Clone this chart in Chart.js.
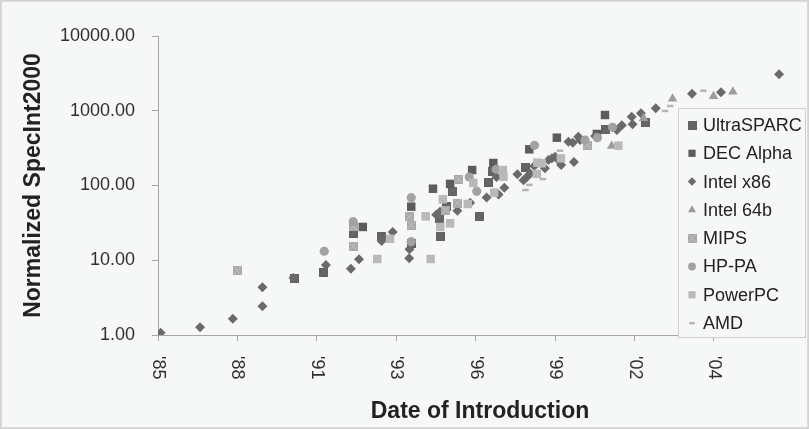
<!DOCTYPE html>
<html>
<head>
<meta charset="utf-8">
<script src="https://cdn.jsdelivr.net/npm/chart.js@4/dist/chart.umd.min.js"></script>
<style>
  html, body { margin: 0; padding: 0; background: #f6f7f7; }
  #spec-chart { display: block; }
</style>
</head>
<body>
<canvas id="spec-chart" width="809" height="429"></canvas>
<script>
// [year of introduction, normalized SpecInt2000]
const ultraSparc = [[1990.42, 5.67], [1991.42, 6.9], [1992.43, 22.9], [1993.42, 20.7], [1994.43, 16.5], [1995.43, 20.5], [1995.42, 36.4], [1995.66, 52.1], [1995.86, 84.4], [1996.77, 37.9], [1997.09, 111], [1997.22, 155], [1998.36, 173], [2001.14, 565], [2002.52, 692]];
const decAlpha = [[1992.76, 27.9], [1994.43, 52.1], [1995.18, 90.6], [1995.77, 105], [1996.53, 161], [1997.26, 200], [1998.5, 305], [1999.45, 436], [2000.83, 489], [2001.11, 877]];
const intelX86 = [[1985.79, 1.07], [1987.15, 1.27], [1988.28, 1.65], [1989.3, 2.42], [1989.3, 4.35], [1990.37, 5.79], [1991.49, 8.64], [1992.35, 7.71], [1992.63, 10.3], [1993.41, 18.1], [1993.79, 23.9], [1994.36, 10.6], [1994.37, 14.0], [1995.29, 40.7], [1995.42, 44.6], [1996.02, 46.0], [1996.46, 58.9], [1997.03, 69.1], [1997.37, 130], [1997.44, 75.8], [1997.64, 93.5], [1998.09, 141], [1998.3, 118], [1998.41, 129], [1998.53, 145], [1998.67, 182], [1999.04, 170], [1999.16, 219], [1999.28, 231], [1999.39, 243], [1999.5, 219], [1999.6, 188], [2000.04, 206], [1999.85, 385], [2000.0, 374], [2000.19, 450], [2000.25, 406], [2000.77, 459], [2001.52, 553], [2001.69, 639], [2002.03, 833], [2002.06, 659], [2002.35, 925], [2002.86, 1079], [2004.11, 1690], [2005.11, 1766], [2007.11, 3074]];
const intel64b = [[2001.34, 338], [2002.44, 792], [2003.44, 1445], [2004.85, 1561], [2005.52, 1798]];
const mips = [[1988.43, 7.25], [1992.43, 15.5], [1992.43, 28.1], [1994.36, 37.9], [1994.43, 29.4], [1995.61, 47.0], [1996.02, 57.8], [1996.07, 122], [2000.5, 348]];
const hpPa = [[1991.43, 13.2], [1992.43, 32.8], [1994.43, 17.7], [1994.43, 68.7], [1996.43, 130], [1996.69, 83.6], [1997.36, 165], [1998.68, 345], [2000.42, 406], [2000.85, 436], [2001.37, 601]];
const powerPc = [[1993.26, 10.4], [1993.7, 19.4], [1994.93, 38.7], [1995.1, 10.4], [1995.43, 27.9], [1995.52, 65.4], [1995.77, 31.2], [1996.38, 56.6], [1996.57, 108], [1997.29, 80.1], [1997.59, 161], [1997.61, 131], [1998.76, 143], [1998.78, 202], [1998.93, 198], [1999.59, 231], [2001.57, 341]];
const amd = [[1998.37, 87], [1998.5, 102], [1998.97, 122], [1999.56, 292], [2003.18, 993], [2003.36, 1158], [2004.5, 1855]];

const seriesNames = ["UltraSPARC", "DEC Alpha", "Intel x86", "Intel 64b", "MIPS", "HP-PA", "PowerPC", "AMD"];
const xTickLabels = ["'85", "'88", "'91", "'93", "'96", "'99", "'02", "'04"];
const yTickValues = [1, 10, 100, 1000, 10000];

// date axis: ticks every 1000 days from mid-1985
const xStart = 1985.7;
const xStep = 2.738;
const xEnd = 2007.35;

const BG = "#f6f7f7";
const AXIS = "#a6a6a6";
const FONT = "'Liberation Sans', Arial, sans-serif";

function patternSquare(fill, line, size) {
  const c = document.createElement("canvas");
  c.width = size;
  c.height = size;
  const g = c.getContext("2d");
  g.fillStyle = fill;
  g.fillRect(0, 0, size, size);
  g.strokeStyle = line;
  g.lineWidth = 1;
  g.beginPath();
  g.moveTo(1, 1); g.lineTo(size - 1, size - 1);
  g.moveTo(size - 1, 1); g.lineTo(1, size - 1);
  g.stroke();
  return c;
}

const styles = [
  { pointStyle: patternSquare("#626262", "#707070", 9), radius: 6, color: "#626262" },
  { pointStyle: "rect", radius: 6, color: "#5c5c5c" },
  { pointStyle: "rectRot", radius: 5, color: "#6a6a6a" },
  { pointStyle: "triangle", radius: 5.5, color: "#9c9c9c" },
  { pointStyle: patternSquare("#a9a9a9", "#c6c6c6", 9), radius: 6, color: "#a9a9a9" },
  { pointStyle: "circle", radius: 4.6, color: "#a2a2a2" },
  { pointStyle: "rect", radius: 6, color: "#b9b9b9" },
  { pointStyle: "line", radius: 3.2, color: "#b4b4b4", borderWidth: 2.5 },
];

const seriesData = [ultraSparc, decAlpha, intelX86, intel64b, mips, hpPa, powerPc, amd];

const datasets = seriesData.map((pts, i) => ({
  label: seriesNames[i],
  data: pts.map((p) => ({ x: p[0], y: p[1] })),
  pointStyle: styles[i].pointStyle,
  pointRadius: styles[i].radius,
  pointHoverRadius: styles[i].radius,
  backgroundColor: styles[i].color,
  borderColor: styles[i].color,
  pointBorderWidth: styles[i].borderWidth || 0,
  order: seriesNames.length - i,
}));

const backgroundPlugin = {
  id: "background",
  beforeDraw(chart) {
    const ctx = chart.ctx;
    ctx.save();
    ctx.fillStyle = BG;
    ctx.fillRect(0, 0, chart.width, chart.height);
    ctx.restore();
  },
};

const decorPlugin = {
  id: "decor",
  afterDraw(chart) {
    const ctx = chart.ctx;
    const xs = chart.scales.x;
    const area = chart.chartArea;
    ctx.save();

    // rotated date labels, reading top to bottom
    ctx.fillStyle = "#303030";
    ctx.font = "18px " + FONT;
    ctx.textAlign = "left";
    ctx.textBaseline = "middle";
    xs.ticks.forEach((t, i) => {
      const px = xs.getPixelForValue(t.value);
      ctx.save();
      ctx.translate(px, area.bottom + 21);
      ctx.rotate(Math.PI / 2);
      ctx.fillText(xTickLabels[i], 0, 0);
      ctx.restore();
    });

    // axis titles
    ctx.fillStyle = "#222";
    ctx.font = "bold 23px " + FONT;
    ctx.textAlign = "center";
    ctx.textBaseline = "alphabetic";
    ctx.fillText("Date of Introduction", 480, 418);
    ctx.save();
    ctx.translate(40, (area.top + area.bottom) / 2);
    ctx.rotate(-Math.PI / 2);
    ctx.fillText("Normalized SpecInt2000", 0, 0);
    ctx.restore();

    // legend box over the plot
    const lx = 678, ly = 108, lw = 127, lh = 229;
    ctx.fillStyle = BG;
    ctx.fillRect(lx, ly, lw, lh);
    ctx.strokeStyle = "#cfcfcf";
    ctx.lineWidth = 1;
    ctx.strokeRect(lx + 0.5, ly + 0.5, lw, lh);
    ctx.font = "18px " + FONT;
    ctx.textAlign = "left";
    ctx.textBaseline = "middle";
    chart.data.datasets.forEach((ds, i) => {
      const y = 125 + i * 28.3;
      const st = styles[i];
      ctx.fillStyle = st.color;
      ctx.strokeStyle = st.color;
      ctx.lineWidth = st.borderWidth || 0;
      Chart.helpers.drawPoint(ctx, {
        pointStyle: st.pointStyle,
        radius: st.radius * 0.85,
        borderWidth: st.borderWidth || 0,
        rotation: 0,
      }, 692, y);
      ctx.fillStyle = "#222";
      ctx.fillText(ds.label, 703, y + 1);
    });

    // outer frame
    ctx.strokeStyle = "#d2d2d2";
    ctx.strokeRect(0.5, 0.5, chart.width - 1, chart.height - 1);
    ctx.restore();
  },
};

const options = {
  type: "scatter",
  data: { datasets },
  options: {
    responsive: false,
    devicePixelRatio: 1,
    animation: false,
    layout: {
      autoPadding: false,
      padding: { top: 36, right: 809 - 786, left: 0, bottom: 0 },
    },
    plugins: {
      legend: { display: false },
      tooltip: { enabled: false },
    },
    scales: {
      x: {
        type: "linear",
        min: xStart,
        max: xEnd,
        afterBuildTicks(scale) {
          scale.ticks = xTickLabels.map((_, i) => ({ value: xStart + i * xStep }));
        },
        afterFit(scale) {
          scale.height = 429 - 335;
        },
        ticks: { display: false },
        grid: { drawOnChartArea: false, tickLength: 6, color: AXIS },
        border: { color: AXIS },
      },
      y: {
        type: "logarithmic",
        min: 1,
        max: 10000,
        afterBuildTicks(scale) {
          scale.ticks = yTickValues.map((v) => ({ value: v }));
        },
        afterFit(scale) {
          scale.width = 158;
        },
        ticks: {
          padding: 17,
          color: "#303030",
          font: { family: FONT, size: 18 },
          callback: (v) => Number(v).toFixed(2),
        },
        grid: { drawOnChartArea: false, tickLength: 6, color: AXIS },
        border: { color: AXIS },
      },
    },
  },
  plugins: [backgroundPlugin, decorPlugin],
};

const canvas = document.querySelector("#spec-chart");
const specChart = new Chart(canvas, options);
</script>
</body>
</html>
